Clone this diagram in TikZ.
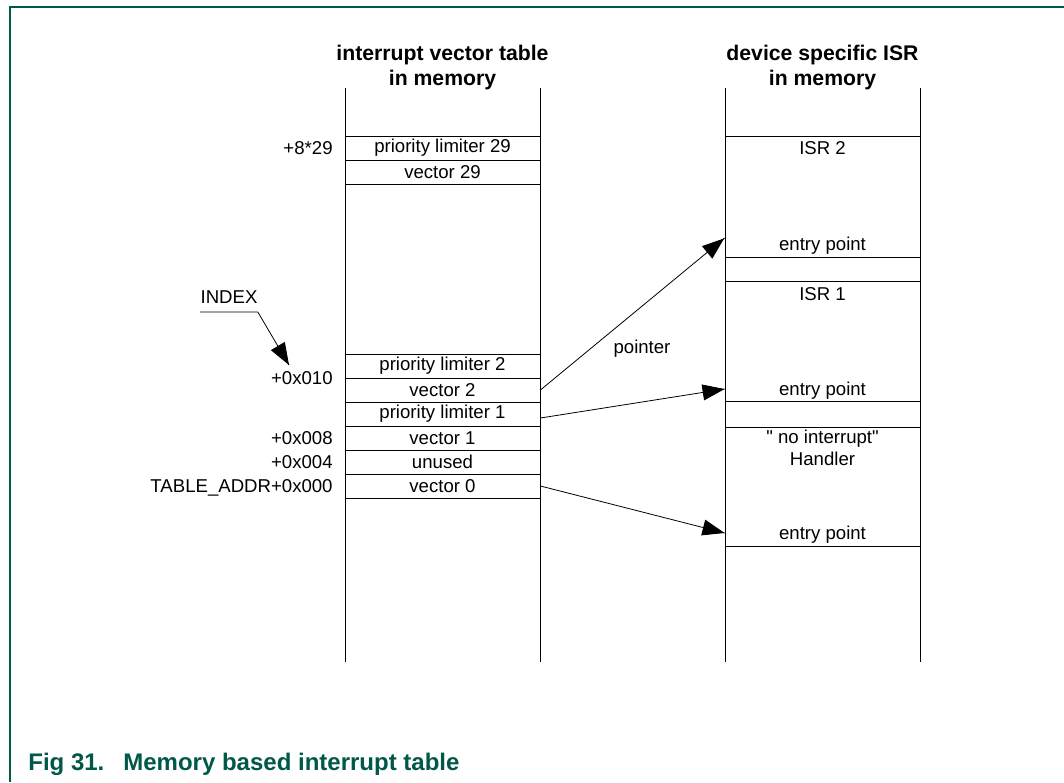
\documentclass[tikz,border=0pt]{standalone}
\usepackage{fontspec}
\setmainfont{Liberation Sans}[Ligatures=TeXOff]
\definecolor{nxpgreen}{RGB}{0,88,72}
\tikzset{ptr/.style = {decoration={markings, mark=at position 1 with {\arrow{Triangle[length=11pt,width=8pt]}}}, postaction={decorate}}}
\tikzset{cell/.style = {draw, minimum width=97.5pt, minimum height=12pt, inner sep=0pt, font=\fontsize{9.3}{11}\selectfont}}
\tikzset{lbl/.style = {inner sep=0pt, text height=1.6ex, text depth=.4ex, font=\fontsize{9.3}{11}\selectfont}}
\tikzset{head/.style = {anchor=south, inner sep=0pt, align=center, font=\bfseries\fontsize{10.6}{12.5}\selectfont}}
\usetikzlibrary{arrows.meta,
                 decorations.markings}
\begin{document}
\begin{tikzpicture}[x=0.5pt,y=-0.5pt]
\useasboundingbox (0,0) rectangle (1064,782);
\draw [nxpgreen, line width=1pt] (10,782) -- (10,7) -- (1064,7);
\node [head] (vthead) at (442.5,90) {interrupt vector table\\in memory};
\node [head] (isrhead) at (822.5,90) {device specific ISR\\in memory};
\draw (345,88) -- (345,662);
\draw (540,88) -- (540,662);
\draw (725,88) -- (725,662);
\draw (920,88) -- (920,662);
\node [cell] (pl29) at (442.5,148) {priority limiter 29};
\node [cell] (v29) at (442.5,172.5) {vector 29};
\node [cell] (pl2) at (442.5,366) {priority limiter 2};
\node [cell] (v2) at (442.5,390) {vector 2};
\node [cell] (pl1) at (442.5,414) {priority limiter 1};
\node [cell] (v1) at (442.5,438) {vector 1};
\node [cell] (unused) at (442.5,462) {unused};
\node [cell] (v0) at (442.5,486) {vector 0};
\node [lbl, anchor=east] (o29) at (333,148) {+8*29};
\node [lbl, anchor=east] (o010) at (333,378) {+0x010};
\node [lbl, anchor=east] (o008) at (333,438) {+0x008};
\node [lbl, anchor=east] (o004) at (333,462) {+0x004};
\node [lbl, anchor=east] (o000) at (333,486) {TABLE\_ADDR+0x000};
\node [lbl, anchor=south, inner xsep=0pt, inner ysep=2pt] (index) at (229,312) {INDEX};
\coordinate (idxtip) at (289,365);
\draw [ptr] (index.south west) -- (index.south east) -- (idxtip);
\draw (725,136) -- (920,136);
\draw (725,257) -- (920,257);
\draw (725,281) -- (920,281);
\draw (725,401) -- (920,401);
\draw (725,427) -- (920,427);
\draw (725,546) -- (920,546);
\node [lbl] (isr2) at (822.5,148) {ISR 2};
\node [lbl, minimum width=97.5pt] (ep2) at (822.5,244) {entry point};
\node [lbl] (isr1) at (822.5,294) {ISR 1};
\node [lbl, minimum width=97.5pt] (ep1) at (822.5,389) {entry point};
\node [anchor=north, inner sep=0pt, align=center, font=\fontsize{9.3}{11}\selectfont] (noint) at (822.5,430) {" no interrupt"\\Handler};
\node [lbl, minimum width=97.5pt] (ep0) at (822.5,533) {entry point};
\draw [ptr] (v2.east) -- ([yshift=3pt]ep2.west);
\draw [ptr] ([yshift=-2pt]pl1.east) -- (ep1.west);
\draw [ptr] (v0.east) -- (ep0.west);
\node [lbl] (ptrlbl) at (642,347) {pointer};
\node [anchor=base west, inner sep=0pt, text=nxpgreen, font=\bfseries\fontsize{12}{14}\selectfont] (fig) at (28,770) {Fig 31.};
\node [anchor=base west, inner sep=0pt, text=nxpgreen, font=\bfseries\fontsize{12}{14}\selectfont] (captxt) at (123,770) {Memory based interrupt table};
\end{tikzpicture}
\end{document}
